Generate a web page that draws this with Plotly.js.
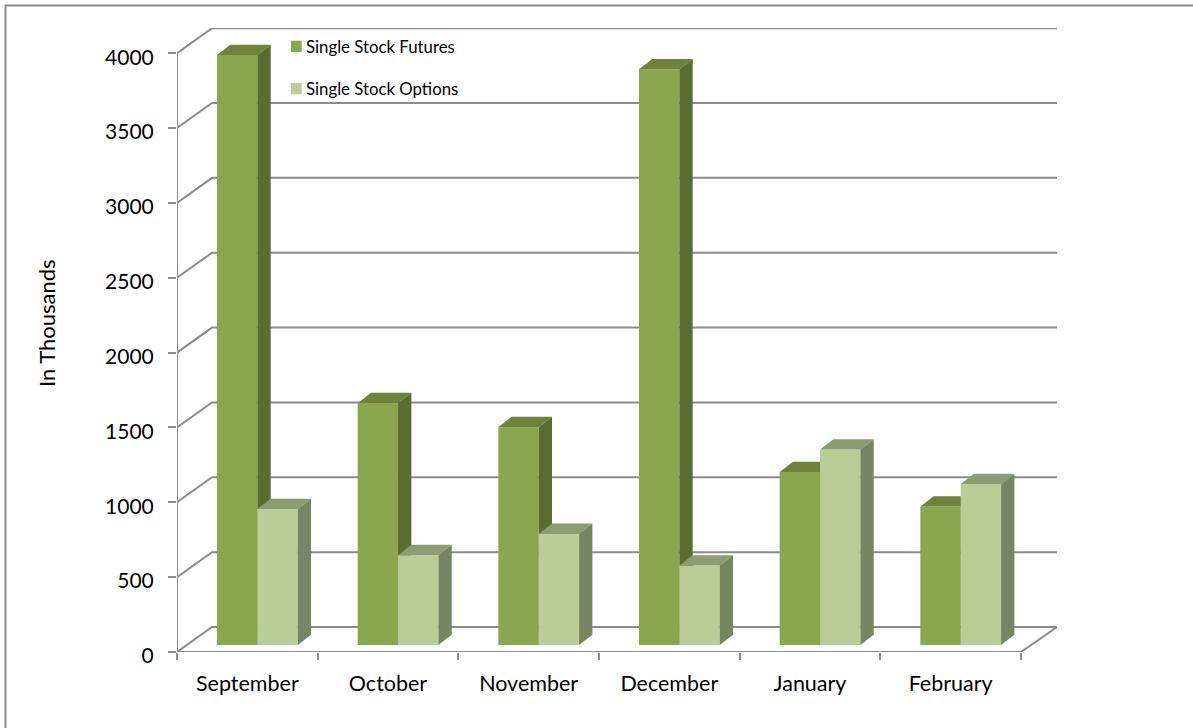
<!DOCTYPE html>
<html><head><meta charset="utf-8">
<script src="https://cdn.plot.ly/plotly-3.0.1.min.js"></script>
<style>html,body{margin:0;padding:0;background:#fff}#c{width:1193px;height:728px}</style>
</head><body><div id="c"></div>
<script>
const categories = ["September","October","November","December","January","February"];
const futures = [3940,1615,1455,3845,1155,925];
const options = [908,600,742,530,1305,1075];
const yTicks = [0,500,1000,1500,2000,2500,3000,3500,4000];
const seriesNames = ["Single Stock Futures","Single Stock Options"];
const yTitle = "In Thousands";

const FONT = "Lato, 'Open Sans', sans-serif";
const GRID = "#8c8c8c";
const W = 1193, H = 728, L = 177, R = 136, T = 28, B = 76;
const xRange = [-0.5, 5.756], yRange = [0, 4168];
const wallDx = 0.2488, wallDy = 167;           // depth of the chart box
const barW = 0.287, barDx = 0.0945, barDy = 69, barBase = 47; // depth and seat of each bar
const futOffset = -0.2155, optOffset = 0.0715;

const px = v => (v - L) / (W - L - R), py = v => 1 - (v - T) / (H - T - B);
const idx = categories.map((_, i) => i);

// chart box
const gx = [], gy = [];
yTicks.forEach(v => { gx.push(-0.5, -0.5 + wallDx, xRange[1], null); gy.push(v, v + wallDy, v + wallDy, null); });
gx.push(-0.5, -0.5, null, -0.5, 5.5, xRange[1]);
gy.push(0, 4000, null, 0, 0, wallDy);

function faces(vals, off, sideCol, topCol, xa, ya) {
  const out = [];
  vals.forEach((v, i) => {
    const xl = i + off, xr = xl + barW, top = barBase + v;
    out.push({type:"scatter",mode:"lines",xaxis:xa,yaxis:ya,fill:"toself",fillcolor:topCol,
      line:{width:0,color:topCol},hoverinfo:"skip",showlegend:false,cliponaxis:false,
      x:[xl,xl+barDx,xr+barDx,xr,xl],y:[top,top+barDy,top+barDy,top,top]});
    out.push({type:"scatter",mode:"lines",xaxis:xa,yaxis:ya,fill:"toself",fillcolor:sideCol,
      line:{width:0,color:sideCol},hoverinfo:"skip",showlegend:false,cliponaxis:false,
      x:[xr,xr+barDx,xr+barDx,xr,xr],y:[barBase,barBase+barDy,top+barDy,top,barBase]});
  });
  return out;
}
function bar(name, vals, off, col, xa, ya) {
  return {type:"bar",name:name,x:idx,y:vals,base:barBase,width:barW,offset:off,xaxis:xa,yaxis:ya,
    marker:{color:col,line:{width:0}},showlegend:false,text:categories,textposition:"none",
    hovertemplate:"%{text}: %{y}<extra>"+name+"</extra>"};
}
const traces = [
  {type:"scatter",mode:"lines",x:gx,y:gy,xaxis:"x",yaxis:"y",line:{color:GRID,width:2},
   hoverinfo:"skip",showlegend:false,cliponaxis:false},
  bar(seriesNames[0], futures, futOffset, "#8aa64f", "x2", "y2"),
  ...faces(futures, futOffset, "#5b6c30", "#6e8239", "x2", "y2"),
  bar(seriesNames[1], options, optOffset, "#bbcd97", "x3", "y3"),
  ...faces(options, optOffset, "#778560", "#8e9c72", "x3", "y3")
];
const hiddenX = o => ({overlaying:"x",range:xRange,type:"linear",visible:false,fixedrange:true,anchor:o});
const hiddenY = o => ({overlaying:"y",range:yRange,type:"linear",visible:false,fixedrange:true,anchor:o});
const layout = {
  width:W,height:H,margin:{l:L,r:R,t:T,b:B,pad:0},paper_bgcolor:"#fff",plot_bgcolor:"rgba(0,0,0,0)",
  showlegend:false,barmode:"overlay",font:{family:FONT,color:"#000"},
  xaxis:{type:"linear",range:xRange,showgrid:false,zeroline:false,showline:false,fixedrange:true,
    tickmode:"array",tickvals:idx,ticktext:categories,ticks:"",ticklabelstandoff:16,
    tickfont:{family:FONT,size:21.5,color:"#000"},
    minor:{tickmode:"array",tickvals:[-0.5,0.5,1.5,2.5,3.5,4.5,5.5],ticks:"outside",ticklen:7,tickwidth:2,tickcolor:GRID,showgrid:false}},
  yaxis:{type:"linear",range:yRange,showgrid:false,zeroline:false,showline:false,fixedrange:true,
    tickmode:"array",tickvals:yTicks,ticks:"outside",ticklen:8,tickwidth:2,tickcolor:GRID,ticklabelstandoff:10,ticklabelshift:4,
    tickfont:{family:FONT,size:21,color:"#000"}},
  xaxis2:hiddenX("y2"),yaxis2:hiddenY("x2"),xaxis3:hiddenX("y3"),yaxis3:hiddenY("x3"),
  shapes:[
    {type:"rect",xref:"paper",yref:"paper",x0:px(5.5),x1:px(1300),y0:py(5.5),y1:py(800),line:{color:"#8c8c8c",width:2},fillcolor:"rgba(0,0,0,0)",layer:"below"},
    {type:"rect",xref:"paper",yref:"paper",x0:px(291),x1:px(301.7),y0:py(40.7),y1:py(52),line:{width:0},fillcolor:"#8aa64f"},
    {type:"rect",xref:"paper",yref:"paper",x0:px(291),x1:px(301.7),y0:py(83),y1:py(94.3),line:{width:0},fillcolor:"#bbcd97"}
  ],
  annotations:[
    {xref:"paper",yref:"paper",x:px(305.7),y:py(46.5),xanchor:"left",yanchor:"middle",showarrow:false,text:seriesNames[0],xshift:-2,font:{family:FONT,size:16.8,color:"#000"}},
    {xref:"paper",yref:"paper",x:px(305.7),y:py(88.5),xanchor:"left",yanchor:"middle",showarrow:false,text:seriesNames[1],xshift:-2,font:{family:FONT,size:16.8,color:"#000"}},
    {xref:"paper",yref:"paper",x:px(46),y:py(323),xanchor:"center",yanchor:"middle",showarrow:false,textangle:-90,text:yTitle,font:{family:FONT,size:22,color:"#000"}}
  ]
};
Plotly.newPlot("c",traces,layout,{displayModeBar:false});
</script></body></html>
